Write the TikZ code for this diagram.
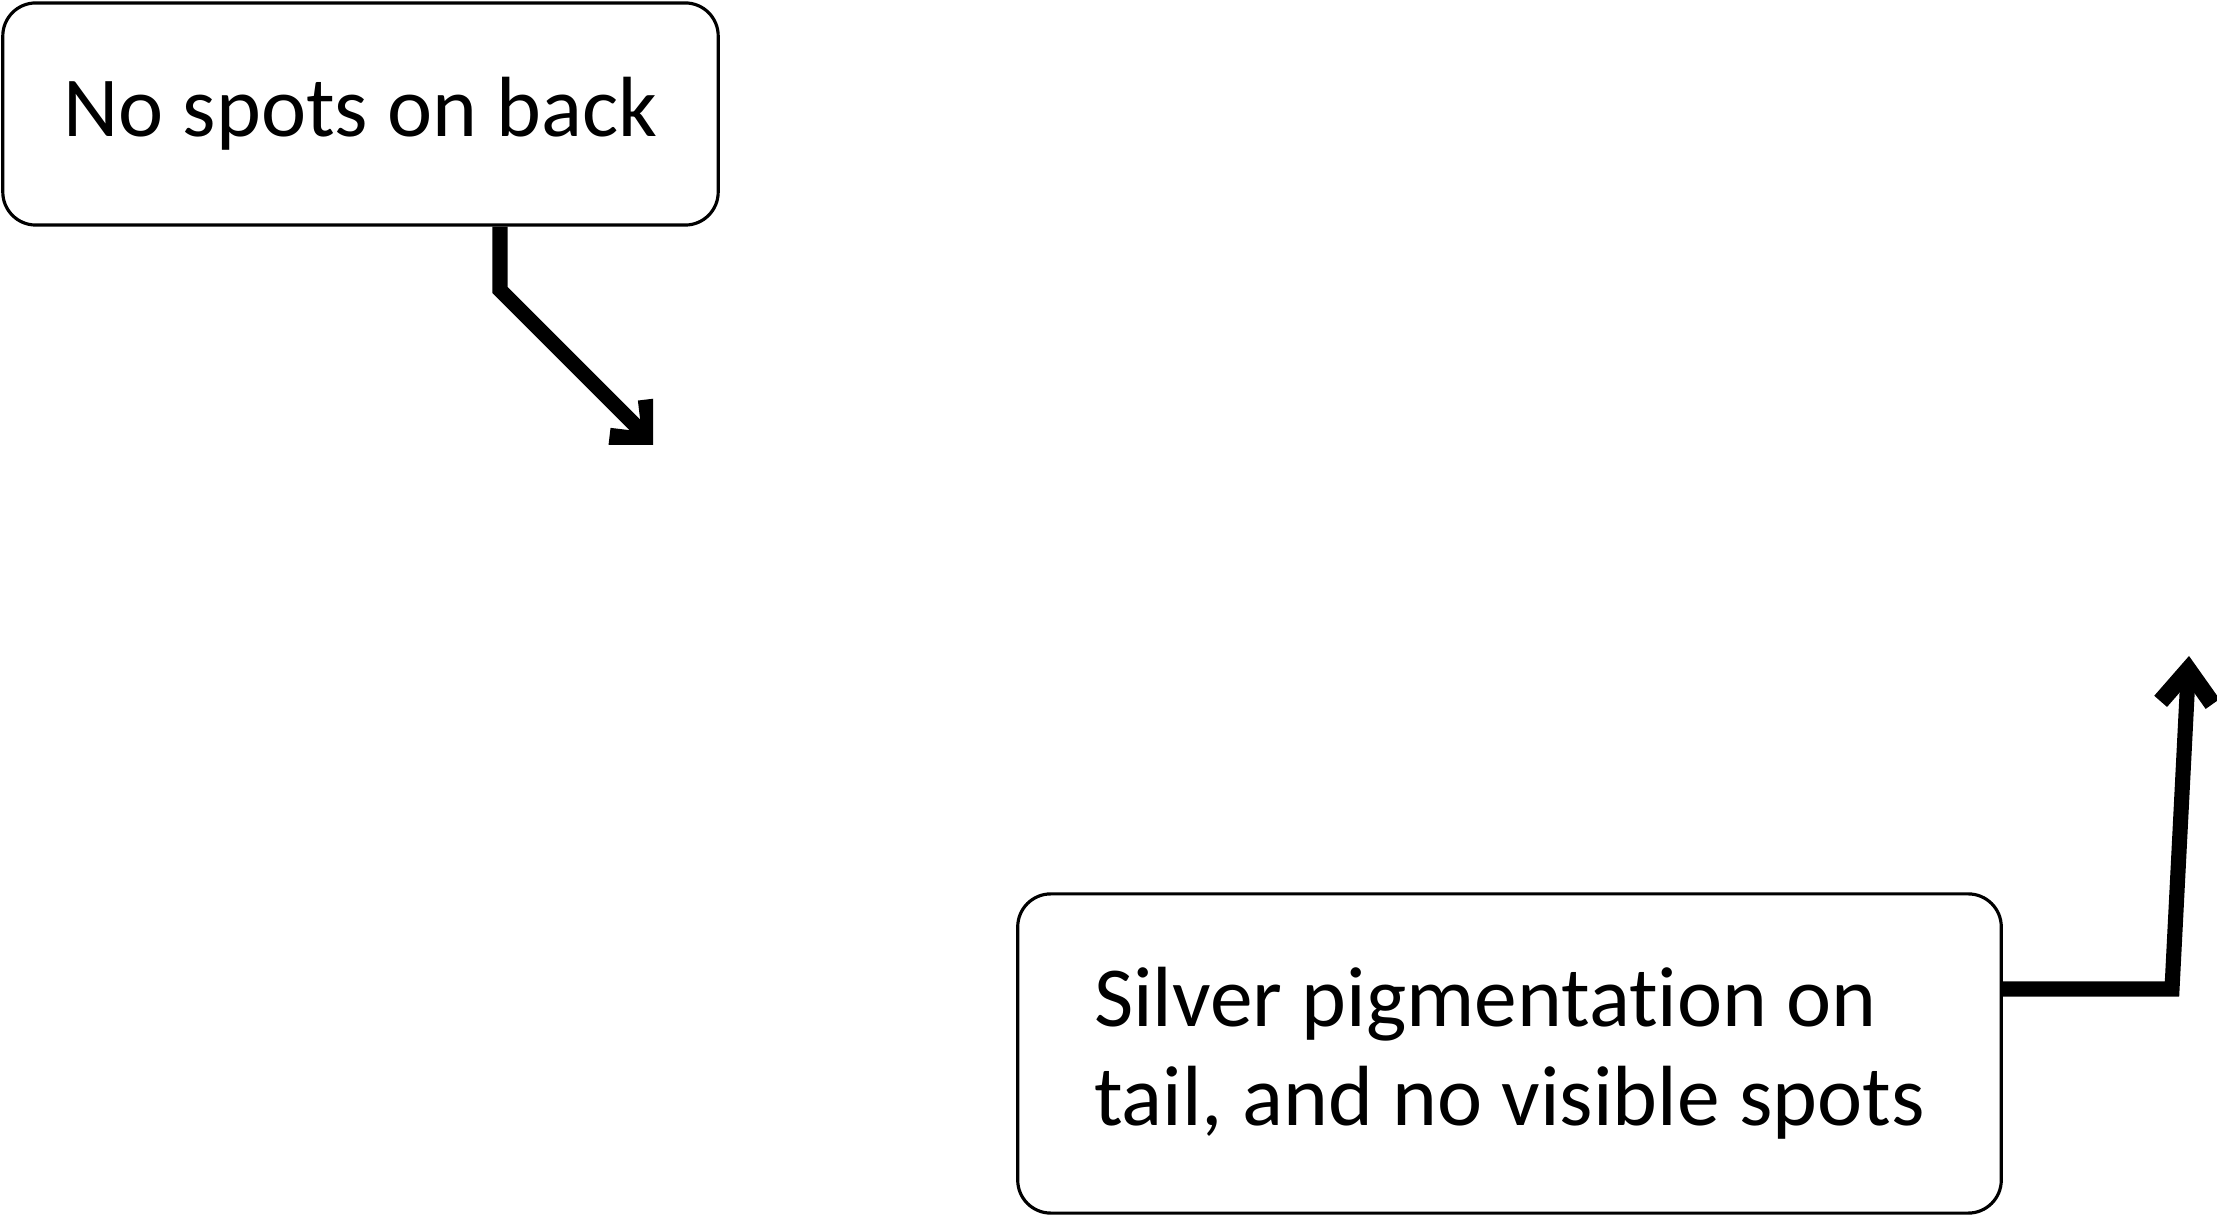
\documentclass[tikz,border=0pt]{standalone}
\usepackage{fontspec}
\setmainfont{Carlito}[Ligatures=NoCommon]
\usetikzlibrary{arrows.meta}

\begin{document}
\begin{tikzpicture}[x=0.01cm, y=-0.01cm,
  every node/.style={font=\fontsize{24.3}{28.2}\selectfont},
  tag/.style={draw, line width=0.9pt, rounded corners=0.33cm, align=left, inner sep=0pt},
  pointer/.style={line width=4.3pt, -{Straight Barb[length=0.33cm, width=0.52cm, line width=0.17cm, line join=miter, line cap=butt]}}]
	\useasboundingbox (0,0) rectangle (2217,1216);
	\node[tag, minimum width=7.15cm, minimum height=2.22cm] (back) at (360.5,114) {No spots on back};
	\node[tag, minimum width=9.83cm, minimum height=3.19cm] (tail) at (1509.5,1053.5) {Silver pigmentation on\\tail, and no visible spots};
	\coordinate (bendback) at (500,290);
	\coordinate (tipback) at (661,451);
	\coordinate (bendtail) at (2172,989);
	\coordinate (tiptail) at (2189,656);
	\begin{scope}
		\clip (0,0) rectangle (653,445);
		\draw[pointer] (bendback |- back.south) -- (bendback) -- (tipback);
	\end{scope}
	\draw[pointer] (bendtail -| tail.east) -- (bendtail) -- (tiptail);
\end{tikzpicture}
\end{document}
